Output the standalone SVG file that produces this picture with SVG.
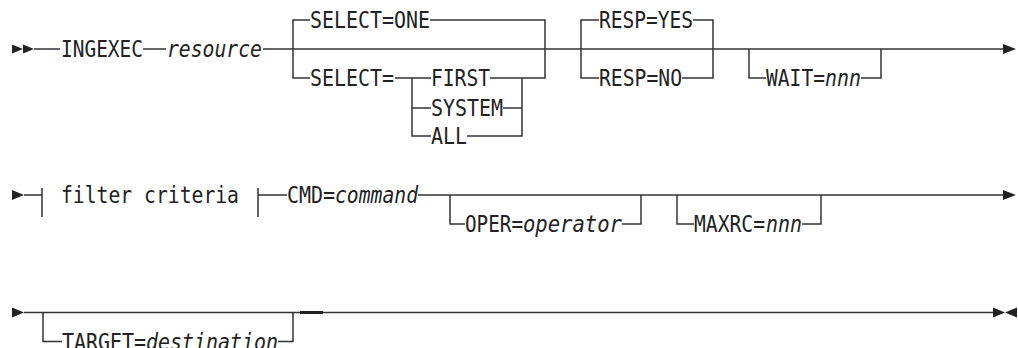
<svg xmlns="http://www.w3.org/2000/svg" width="1018" height="348" viewBox="0 0 1018 348">
<style>
.l{fill:none;stroke:#333;stroke-width:1.5}
.a{fill:#222;stroke:none}
text{font-family:"DejaVu Sans Mono","Liberation Mono",monospace;font-size:23.5px;fill:#222}
.i{font-style:italic}
</style>
<rect width="1018" height="348" fill="#fff"/>
<g id="connectors">
<polygon class="a" points="12,44.5 23,49 12,53.5"/>
<polygon class="a" points="23,44.5 34,49 23,53.5"/>
<path class="l" d="M34,49H60M143,49H166M263,49H1004"/>
<path class="l" d="M310,20H293V78H310M430,20H545V78H490M395,78H431M412,78V136H431M412,108H431M503,108H522M467,136H522V78"/>
<path class="l" d="M599,20H581V78H599M693,20H713V78H682"/>
<path class="l" d="M749,49V78H766M861,78H881V49"/>
<polygon class="a" points="1003,44 1016,49 1003,54"/>
<polygon class="a" points="12,190 24,195 12,200"/>
<path class="l" d="M24,195H42M42,188V217M258,188V217M258,195H287M418,195H1004"/>
<path class="l" d="M450,195V224H465M622,224H641V195"/>
<path class="l" d="M677,195V224H694M802,224H821V195"/>
<polygon class="a" points="1003,190 1016,195 1003,200"/>
<polygon class="a" points="12,307.5 24,312.5 12,317.5"/>
<path class="l" d="M24,312.5H994"/>
<path class="l" d="M43,312.5V341.5H62M278,341.5H293V312.5"/>
<path d="M300,312.5H323" stroke="#222" stroke-width="3"/>
<polygon class="a" points="993,307.5 1005,312.5 993,317.5"/>
<polygon class="a" points="1017,307.5 1005,312.5 1017,317.5"/>
</g>
<g id="n-ingexec"><text x="61" y="57" textLength="82" lengthAdjust="spacingAndGlyphs">INGEXEC</text></g>
<g id="n-resource"><text class="i" x="167" y="57" textLength="95" lengthAdjust="spacingAndGlyphs">resource</text></g>
<g id="n-select-one"><text x="310" y="28" textLength="120" lengthAdjust="spacingAndGlyphs">SELECT=ONE</text></g>
<g id="n-select"><text x="310" y="85.5" textLength="84" lengthAdjust="spacingAndGlyphs">SELECT=</text></g>
<g id="n-first"><text x="431" y="85.5" textLength="59" lengthAdjust="spacingAndGlyphs">FIRST</text></g>
<g id="n-system"><text x="431" y="115.5" textLength="72" lengthAdjust="spacingAndGlyphs">SYSTEM</text></g>
<g id="n-all"><text x="431" y="143.5" textLength="36" lengthAdjust="spacingAndGlyphs">ALL</text></g>
<g id="n-resp-yes"><text x="599" y="28" textLength="94" lengthAdjust="spacingAndGlyphs">RESP=YES</text></g>
<g id="n-resp-no"><text x="599" y="85.5" textLength="83" lengthAdjust="spacingAndGlyphs">RESP=NO</text></g>
<g id="n-wait"><text x="766" y="85.5" textLength="59" lengthAdjust="spacingAndGlyphs">WAIT=</text><text class="i" x="825" y="85.5" textLength="36" lengthAdjust="spacingAndGlyphs">nnn</text></g>
<g id="n-filter"><text x="61" y="202.5" textLength="178" lengthAdjust="spacingAndGlyphs">filter criteria</text></g>
<g id="n-cmd"><text x="287" y="202.5" textLength="48" lengthAdjust="spacingAndGlyphs">CMD=</text><text class="i" x="335" y="202.5" textLength="83" lengthAdjust="spacingAndGlyphs">command</text></g>
<g id="n-oper"><text x="465" y="231.5" textLength="58" lengthAdjust="spacingAndGlyphs">OPER=</text><text class="i" x="523" y="231.5" textLength="99" lengthAdjust="spacingAndGlyphs">operator</text></g>
<g id="n-maxrc"><text x="694" y="231.5" textLength="71" lengthAdjust="spacingAndGlyphs">MAXRC=</text><text class="i" x="766" y="231.5" textLength="36" lengthAdjust="spacingAndGlyphs">nnn</text></g>
<g id="n-target"><text x="62" y="349.5" textLength="84" lengthAdjust="spacingAndGlyphs">TARGET=</text><text class="i" x="146" y="349.5" textLength="132" lengthAdjust="spacingAndGlyphs">destination</text></g>
</svg>
